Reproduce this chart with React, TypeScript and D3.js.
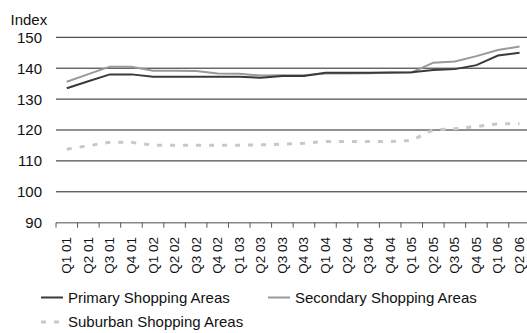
import React from "react";
import * as d3 from "d3";

const categories = [
  "Q1 01", "Q2 01", "Q3 01", "Q4 01",
  "Q1 02", "Q2 02", "Q3 02", "Q4 02",
  "Q1 03", "Q2 03", "Q3 03", "Q4 03",
  "Q1 04", "Q2 04", "Q3 04", "Q4 04",
  "Q1 05", "Q2 05", "Q3 05", "Q4 05",
  "Q1 06", "Q2 06",
];

const primary = [
  133.5, 135.8, 138.0, 138.0, 137.2, 137.2, 137.2, 137.2, 137.2, 136.9, 137.5,
  137.5, 138.5, 138.5, 138.5, 138.6, 138.7, 139.4, 139.7, 141.0, 144.1, 145.0,
];

const secondary = [
  135.6, 138.1, 140.5, 140.5, 139.2, 139.2, 139.1, 138.3, 138.2, 137.6, 137.7,
  137.7, 138.3, 138.3, 138.4, 138.5, 138.6, 141.8, 142.2, 143.9, 145.9, 147.0,
];

const suburban = [
  113.8, 114.9, 116.0, 116.0, 115.1, 115.1, 115.1, 115.1, 115.1, 115.2, 115.4,
  115.7, 116.3, 116.3, 116.3, 116.3, 116.6, 120.1, 120.4, 121.1, 122.0, 122.0,
];

const yTicks = [90, 100, 110, 120, 130, 140, 150];

const seriesNames = [
  "Primary Shopping Areas",
  "Secondary Shopping Areas",
  "Suburban Shopping Areas",
];

const W = 527;
const H = 333;
const FONT = "'Liberation Sans', Arial, sans-serif";

export default function App() {
  const left = 56;
  const step = 21.56;
  const x = d3
    .scaleBand<string>()
    .domain(categories)
    .range([left, left + step * categories.length])
    .padding(0);
  const y = d3.scaleLinear().domain([90, 150]).range([222.7, 37.3]);

  const cx = (c: string) => (x(c) ?? 0) + x.bandwidth() / 2;
  const line = d3
    .line<number>()
    .x((_, i) => cx(categories[i]))
    .y((d) => y(d));

  const boundaries = d3.range(categories.length + 1).map((i) => left + i * x.bandwidth());

  return (
    <svg
      width={W}
      height={H}
      style={{ position: "absolute", left: 0, top: 0, background: "#fff" }}
      fontFamily={FONT}
    >
      <rect width={W} height={H} fill="#fff" />
      {/* horizontal gridlines */}
      {yTicks
        .filter((t) => t !== 90)
        .map((t) => (
          <line key={t} x1={left} x2={W} y1={y(t)} y2={y(t)} stroke="#222" strokeWidth={1} />
        ))}
      {/* y labels */}
      {yTicks.map((t) => (
        <text
          key={"l" + t}
          x={42}
          y={y(t)}
          dy="0.36em"
          textAnchor="end"
          fontSize={15}
          fill="#111"
        >
          {t}
        </text>
      ))}
      <text x={10.5} y={25} fontSize={15} fill="#111">
        Index
      </text>

      {/* x axis */}
      <line x1={left} x2={W} y1={y(90)} y2={y(90)} stroke="#888" strokeWidth={1.5} />
      {boundaries.map((bx, i) => (
        <line key={"t" + i} x1={bx} x2={bx} y1={y(90)} y2={y(90) + 5} stroke="#555" strokeWidth={1} />
      ))}
      {categories.map((c) => (
        <text
          key={c}
          transform={`translate(${cx(c) + 4.5},237) rotate(-90)`}
          textAnchor="end"
          fontSize={13.5}
          fill="#111"
        >
          {c}
        </text>
      ))}

      {/* series */}
      <path d={line(suburban) ?? ""} fill="none" stroke="#c8c8c8" strokeWidth={3} strokeDasharray="5,8" />
      <path d={line(secondary) ?? ""} fill="none" stroke="#999" strokeWidth={2} />
      <path d={line(primary) ?? ""} fill="none" stroke="#3a3a3a" strokeWidth={2} />

      {/* legend */}
      <line x1={41} x2={63} y1={297.5} y2={297.5} stroke="#3a3a3a" strokeWidth={2} />
      <text x={68} y={302.5} fontSize={15} fill="#111">
        {seriesNames[0]}
      </text>
      <line x1={268} x2={290} y1={297.5} y2={297.5} stroke="#999" strokeWidth={2} />
      <text x={295} y={302.5} fontSize={15} fill="#111">
        {seriesNames[1]}
      </text>
      <line x1={41} x2={63} y1={322} y2={322} stroke="#c8c8c8" strokeWidth={3} strokeDasharray="5,8" />
      <text x={68} y={327} fontSize={15} fill="#111">
        {seriesNames[2]}
      </text>
    </svg>
  );
}
